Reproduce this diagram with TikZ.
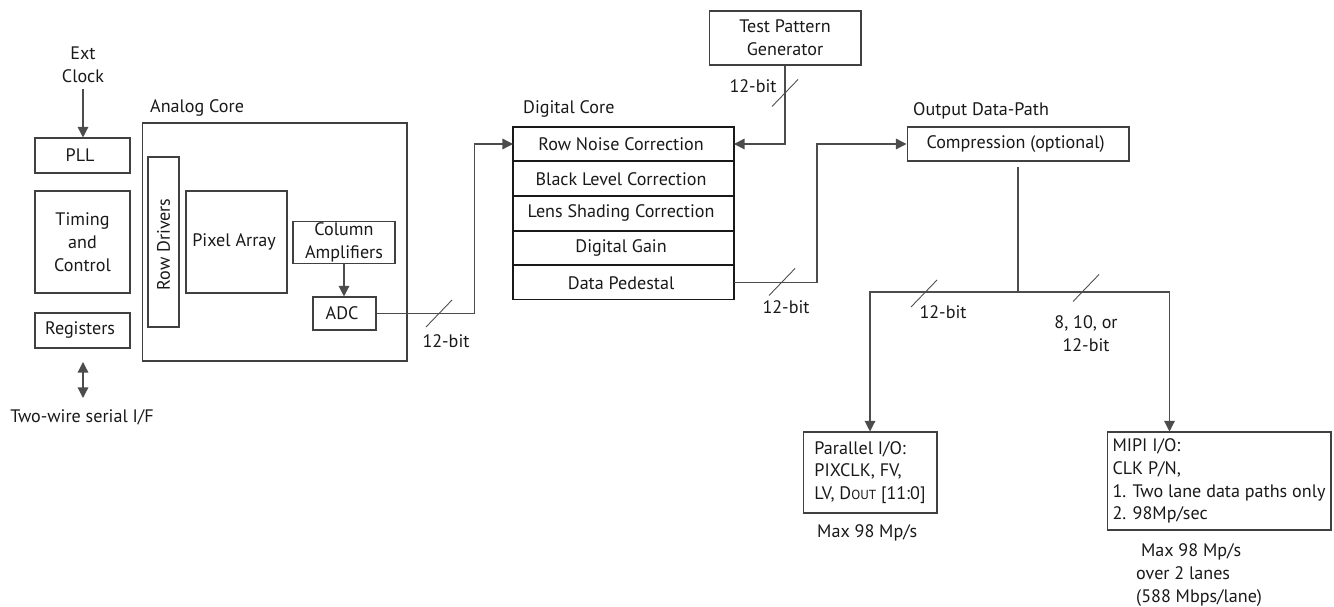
\documentclass[tikz,border=0pt]{standalone}
\usepackage{fontspec}
\setmainfont{PT Sans}
\usepackage{tikz}
\usetikzlibrary{positioning,arrows.meta}

\newcommand{\busslash}[1]{\draw[wire, line width=0.5pt] ([shift={(-13,13.5)}]#1) -- ([shift={(13,-13.5)}]#1);}

\begin{document}
\begin{tikzpicture}[x=0.02cm, y=-0.02cm, >={Triangle[length=6pt,width=6pt]},
    every node/.style = { font = \fontsize{10.3}{13}\selectfont, text = black!90 },
    box/.style = { draw = black!75, line width = 0.6pt, align = center, inner sep = 1pt },
    row/.style = { box, draw = black!90, line width = 0.7pt, minimum width = 4.42cm, minimum height = 0.68cm, outer sep = 0pt },
    wire/.style = { draw = black!70, line width = 0.7pt }]

    \useasboundingbox (0,0) rectangle (1334,607);

    % control blocks
    \node [box, minimum width = 1.9cm, minimum height = 0.7cm] (pll) at (82.5,155.5) { PLL };
    \node [box, minimum width = 1.9cm, minimum height = 2.04cm] (tmg) at (82.5,242) { Timing \\ and \\ Control };
    \node [box, minimum width = 1.9cm, minimum height = 0.7cm] (reg) at (82.5,330.5) { Registers };
    \node [align = center] (clk) at (83,65) { Ext \\ Clock };
    \node (twi) at (82,417) { Two-wire serial I/F };

    % analog core
    \node [box, minimum width = 5.3cm, minimum height = 4.76cm] (ana) at (274.5,242) {};
    \node [anchor = west] (analbl) at (144,108) { Analog Core };
    \node [box, minimum width = 3.4cm, minimum height = 0.62cm, rotate = 90] (rdrv) at (163.5,242) { Row Drivers };
    \node [box, minimum width = 2.02cm, minimum height = 2.04cm] (pix) at (236.5,242) { Pixel Array };
    \node [box, minimum width = 2.04cm, minimum height = 0.82cm] (col) at (344,242.5) { Column \\ Amplifiers };
    \node [box, minimum width = 1.26cm, minimum height = 0.66cm] (adc) at (344.5,313.5) { ADC };

    % digital core
    \node [anchor = west] (diglbl) at (517,109) { Digital Core };
    \node [row] (r1) at (623.5,144) { Row Noise Correction };
    \node [row, below = 0.4pt of r1] (r2) { Black Level Correction };
    \node [row, below = 0.4pt of r2] (r3) { Lens Shading Correction };
    \node [row, below = 0.4pt of r3] (r4) { Digital Gain };
    \node [row, below = 0.4pt of r4] (r5) { Data Pedestal };
    \node [box, minimum width = 3.04cm, minimum height = 1.08cm] (tpg) at (785,38) { Test Pattern \\ Generator };

    % output data-path
    \node [anchor = west] (outlbl) at (907,111) { Output Data-Path };
    \node [box, minimum width = 4.44cm, minimum height = 0.68cm] (cmp) at (1018,144) { Compression (optional) };
    \node [box, minimum width = 2.68cm, minimum height = 1.62cm, align = left] (par) at (870,472.5)
      { Parallel I/O: \\ PIXCLK, FV, \\ LV, D{\fontsize{7.5}{9}\selectfont OUT} [11:0] };
    \node [box, minimum width = 4.48cm, minimum height = 1.96cm, align = left] (mipi) at (1219,481)
      { MIPI I/O: \\ CLK P/N, \\ 1. Two lane data paths only \\ 2. 98Mp/sec };
    \node [anchor = west] (parnote) at (811,533) { Max 98 Mp/s };
    \node [anchor = west, align = left] (mipinote) at (1130,575) { \ Max 98 Mp/s \\ over 2 lanes \\ (588 Mbps/lane) };

    % bus widths
    \node (b1) at (446,341) { 12-bit };
    \node (b2) at (753,86) { 12-bit };
    \node (b3) at (786,307) { 12-bit };
    \node (b4) at (943,312) { 12-bit };
    \node [align = center] (b5) at (1086,333.5) { 8, 10, or \\ 12-bit };

    \coordinate (sif1) at (83,362);
    \coordinate (sif2) at (83,398);
    \coordinate (br) at (1018,292);
    \coordinate (s1) at (439,313.5);
    \coordinate (s2) at (785,93);
    \coordinate (s3) at (782,282);
    \coordinate (s4) at (924,293.5);
    \coordinate (s5) at (1086,288);

    \draw [wire, ->] (clk.south) -- (clk.south |- pll.north);
    \draw [wire, <->] (sif1) -- (sif2);
    \draw [wire, ->] (col.south) -- (col.south |- adc.north);
    \draw [wire, ->] (adc.east) -- ++(98,0) |- (r1.west);
    \draw [wire, ->] (tpg.south) |- (r1.east);
    \draw [wire, ->] (r5.east) -- ++(83,0) |- (cmp.west);
    \draw [wire] ([yshift=-0.1cm]cmp.south) -- (br);
    \draw [wire, ->] (br) -| (par.north);
    \draw [wire, ->] (br) -| ([xshift=1.26cm]mipi.north west);

    \busslash{s1} \busslash{s2} \busslash{s3} \busslash{s4} \busslash{s5}

\end{tikzpicture}
\end{document}
